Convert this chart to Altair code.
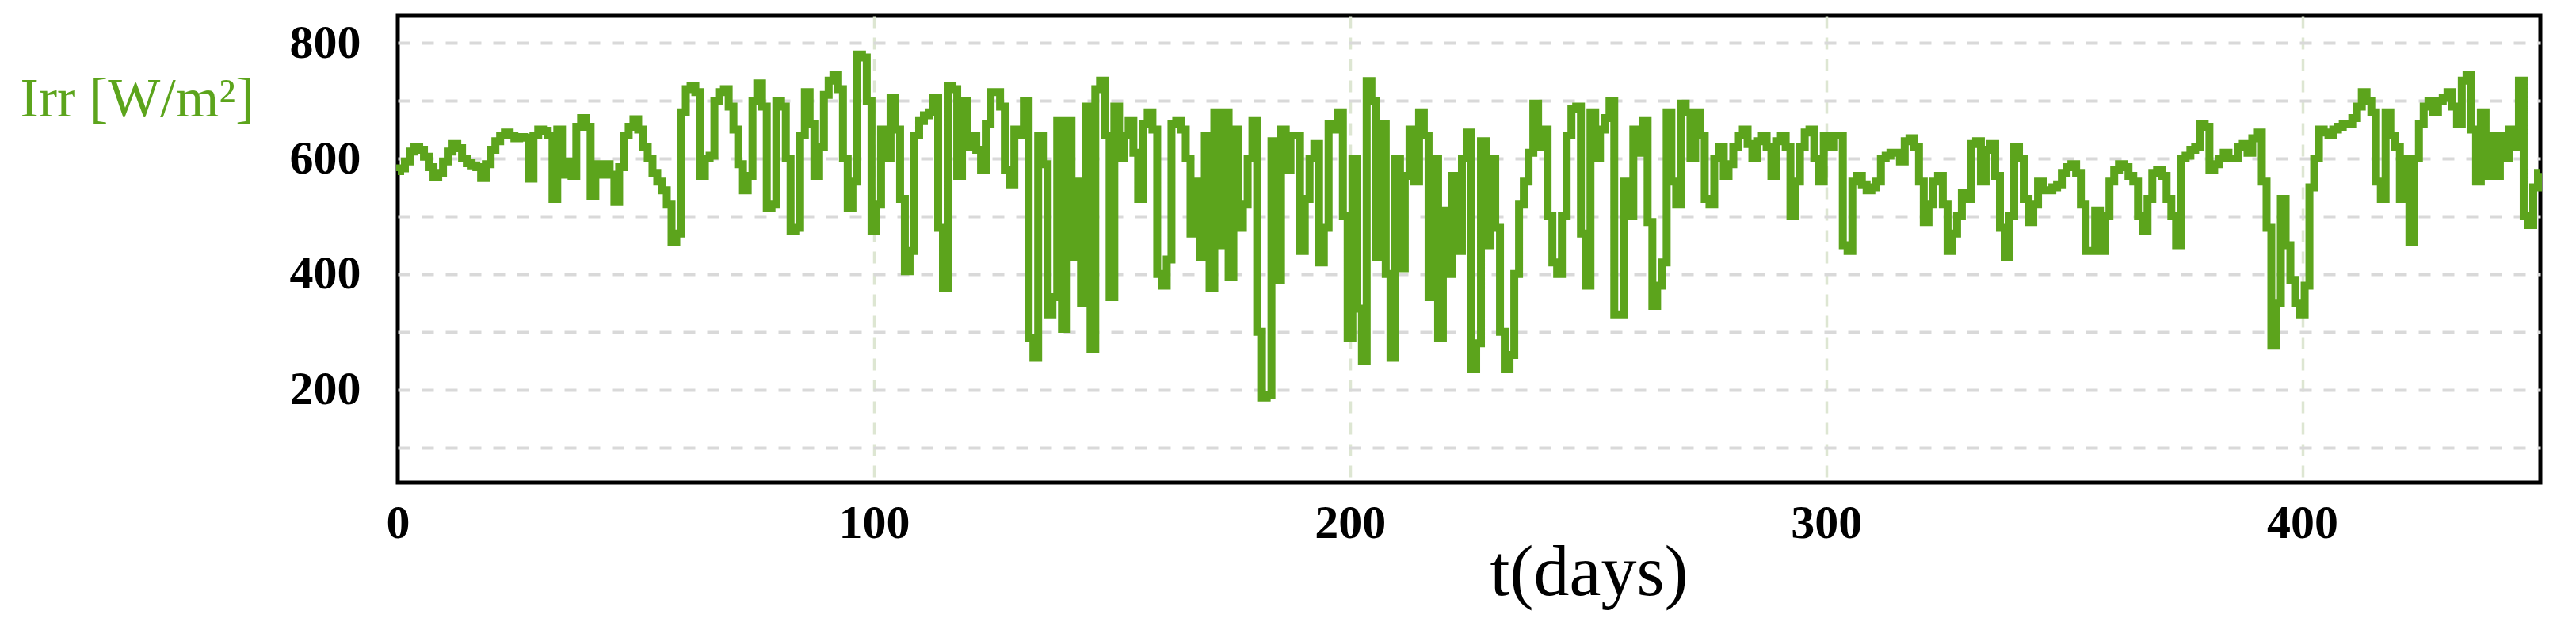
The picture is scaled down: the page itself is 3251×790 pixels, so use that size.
import altair as alt
import pandas as pd

# Irradiance readings (W/m²), one per day
irr = [
    578, 583, 595, 612, 620, 615, 603, 585, 568, 575,
    595, 612, 625, 618, 600, 592, 588, 585, 566, 590,
    615, 630, 640, 645, 640, 635, 637, 636, 565, 640,
    650, 648, 640, 530, 650, 572, 595, 570, 655, 670,
    655, 535, 590, 572, 590, 572, 525, 585, 640, 655,
    668, 650, 620, 600, 575, 560, 545, 520, 455, 470,
    680, 720, 725, 715, 570, 600, 605, 700, 715, 720,
    690, 650, 590, 545, 570, 700, 730, 690, 515, 520,
    700, 690, 600, 475, 480, 640, 715, 660, 570, 620,
    710, 735, 745, 720, 600, 515, 560, 780, 775, 700,
    475, 520, 650, 600, 705, 650, 530, 405, 440, 640,
    665, 675, 680, 705, 480, 375, 725, 720, 570, 700,
    620, 640, 615, 580, 660, 715, 715, 690, 580, 555,
    650, 640, 700, 290, 255, 640, 590, 330, 360, 665,
    305, 665, 430, 560, 350, 690, 270, 720, 735, 640,
    360, 690, 600, 640, 665, 610, 530, 660, 680, 650,
    400, 380, 425, 660, 665, 650, 600, 470, 560, 430,
    640, 375, 680, 450, 680, 395, 650, 480, 520, 600,
    665, 300, 186, 190, 630, 390, 650, 580, 640, 640,
    440, 530, 600, 625, 420, 480, 660, 650, 680, 500,
    290, 600, 340, 250, 734, 700, 430, 660, 400, 255,
    600, 410, 570, 650, 560, 680, 640, 360, 600, 290,
    510, 400, 570, 440, 600, 645, 235, 280, 630, 450,
    600, 480, 300, 235, 260, 400, 520, 560, 610, 695,
    620, 650, 500, 420, 400, 500, 640, 685, 690, 470,
    380, 680, 600, 650, 670, 700, 330, 330, 560, 500,
    650, 610, 665, 490, 345, 380, 420, 680, 560, 520,
    695, 680, 600, 680, 640, 530, 520, 600, 620, 570,
    590, 620, 640, 650, 625, 600, 630, 640, 620, 570,
    630, 640, 620, 500, 560, 620, 645, 650, 600, 560,
    640, 620, 640, 640, 450, 440, 560, 570, 555, 545,
    550, 560, 600, 605, 610, 610, 595, 630, 635, 620,
    560, 490, 520, 560, 570, 520, 440, 470, 500, 540,
    530, 625, 630, 560, 615, 625, 570, 480, 430, 500,
    620, 600, 530, 490, 520, 560, 545, 545, 550, 555,
    575, 585, 590, 575, 520, 440, 440, 510, 440, 500,
    560, 580, 590, 585, 570, 560, 500, 475, 530, 575,
    580, 570, 530, 500, 450, 600, 605, 615, 620, 660,
    655, 580, 590, 600, 610, 600, 600, 620, 625, 610,
    635, 645, 560, 480, 276, 350, 530, 450, 390, 350,
    330, 380, 550, 600, 650, 645, 640, 650, 655, 660,
    660, 670, 690, 715, 700, 680, 560, 530, 680, 640,
    620, 530, 600, 455, 600, 660, 690, 700, 680, 700,
    705, 715, 690, 660, 735, 745, 650, 560, 680, 570,
    640, 570, 640, 600, 650, 620, 735, 500, 485, 550,
    575,
]
days = list(range(len(irr)))

x_ticks = [0, 100, 200, 300, 400]
y_grid = [100, 200, 300, 400, 500, 600, 700, 800]

df = pd.DataFrame({"t": days, "irr": irr})

GREEN = "#5ca41c"
FONT = "Liberation Serif"

chart = (
    alt.Chart(df)
    .mark_line(color=GREEN, strokeWidth=10, interpolate="step", strokeJoin="miter")
    .encode(
        x=alt.X(
            "t:Q",
            scale=alt.Scale(domain=[0, 450], nice=False, zero=False),
            axis=alt.Axis(
                values=x_ticks,
                title="t(days)",
                grid=True,
                gridColor="#dde6d2",
                gridDash=[15, 12],
                gridWidth=3.5,
                gridOpacity={"condition": {"test": "datum.value === 0", "value": 0}, "value": 1},
                domain=False,
                ticks=False,
                labelFlush=False,
                labelFont=FONT,
                labelFontWeight="bold",
                labelFontSize=60,
                labelColor="black",
                labelPadding=22,
                labelAngle=0,
                titleFont=FONT,
                titleFontSize=90,
                titleFontWeight="normal",
                titleColor="black",
                titleX=1503,
                titleY=141,
                titleAlign="center",
                titleBaseline="alphabetic",
            ),
        ),
        y=alt.Y(
            "irr:Q",
            scale=alt.Scale(domain=[39, 847], nice=False, zero=False),
            axis=alt.Axis(
                values=y_grid,
                labelExpr="datum.value % 200 === 0 ? datum.label : ''",
                grid=True,
                gridColor="#d9d9d9",
                gridDash=[15, 15],
                gridWidth=4,
                domain=False,
                ticks=False,
                labelFlush=False,
                labelFont=FONT,
                labelFontWeight="bold",
                labelFontSize=60,
                labelColor="black",
                labelPadding=47,
                title="Irr [W/m²]",
                titleAngle=0,
                titleX=-477,
                titleY=126,
                titleAlign="left",
                titleBaseline="alphabetic",
                titleColor=GREEN,
                titleFont=FONT,
                titleFontSize=70,
                titleFontWeight="normal",
            ),
        ),
    )
    .properties(
        width=2704,
        height=589,
        padding={"left": 494, "top": 12, "right": 37, "bottom": 165},
        autosize=alt.AutoSizeParams(type="none"),
    )
    .configure_view(stroke="black", strokeWidth=5)
)

chart.save("out.html", embed_options={"renderer": "svg", "actions": False})
